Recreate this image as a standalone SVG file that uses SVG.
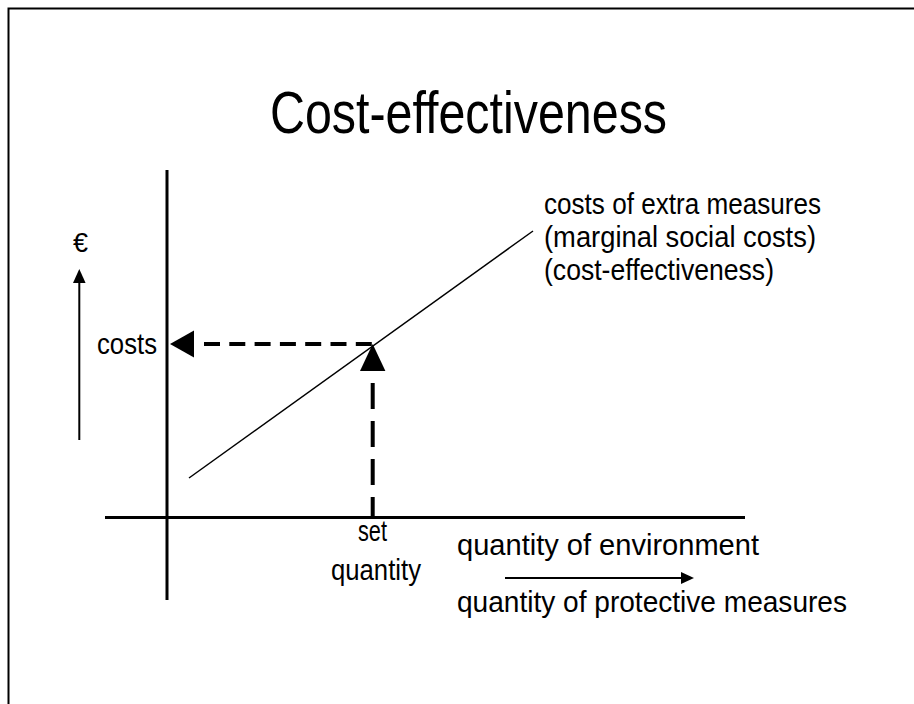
<svg xmlns="http://www.w3.org/2000/svg" width="914" height="704" viewBox="0 0 914 704">
<style>
  .t { font-family: "Liberation Sans", Arial, sans-serif; fill: #000; }
  .body { font-size: 30px; }
  .title { font-size: 59px; }
  .axis { stroke: #000; stroke-width: 3; fill: none; }
  .border { stroke: #000; stroke-width: 2; fill: none; }
  .curve { stroke: #000; stroke-width: 1.5; fill: none; }
  .arrow { stroke: #000; stroke-width: 2; fill: none; }
  .dashH { stroke: #000; stroke-width: 4; fill: none; stroke-dasharray: 16 9.3; }
  .dashV { stroke: #000; stroke-width: 4; fill: none; stroke-dasharray: 26 12; }
  .head { fill: #000; stroke: none; }
</style>
<rect width="914" height="704" fill="#fff"/>
<path class="border" d="M8.5,704 V8.5 H914"/>
<g id="title"><text class="t title" x="270" y="133" textLength="397" lengthAdjust="spacingAndGlyphs">Cost-effectiveness</text></g>
<g id="connectors">
  <path class="axis" d="M167,170 V600"/>
  <path class="axis" d="M105,517.5 H745"/>
  <path class="curve" d="M189,478 L533,231"/>
  <path class="arrow" d="M79.3,440 V280"/>
  <polygon class="head" points="79.3,269 73,283 85.6,283"/>
  <path class="arrow" d="M505,578 H684"/>
  <polygon class="head" points="694,578 681,572 681,584"/>
  <path class="dashH" d="M204,344 H372"/>
  <polygon class="head" points="170,344 194,330.5 194,357.5"/>
  <path class="dashV" d="M372.7,383 V518"/>
  <polygon class="head" points="372.7,344 360,371 385.4,371"/>
</g>
<g id="label-euro"><text class="t" font-size="27" x="73" y="252">€</text></g>
<g id="label-costs"><text class="t body" x="97" y="354" textLength="60" lengthAdjust="spacingAndGlyphs">costs</text></g>
<g id="label-curve">
  <text class="t body" x="544" y="214" textLength="277" lengthAdjust="spacingAndGlyphs">costs of extra measures</text>
  <text class="t body" x="544" y="247" textLength="272" lengthAdjust="spacingAndGlyphs">(marginal social costs)</text>
  <text class="t body" x="544" y="280" textLength="230" lengthAdjust="spacingAndGlyphs">(cost-effectiveness)</text>
</g>
<g id="label-set">
  <text class="t body" x="358" y="541" textLength="29" lengthAdjust="spacingAndGlyphs">set</text>
  <text class="t body" x="331" y="580" textLength="90" lengthAdjust="spacingAndGlyphs">quantity</text>
</g>
<g id="label-x">
  <text class="t body" x="457" y="555" textLength="302" lengthAdjust="spacingAndGlyphs">quantity of environment</text>
  <text class="t body" x="457" y="612" textLength="390" lengthAdjust="spacingAndGlyphs">quantity of protective measures</text>
</g>
</svg>
